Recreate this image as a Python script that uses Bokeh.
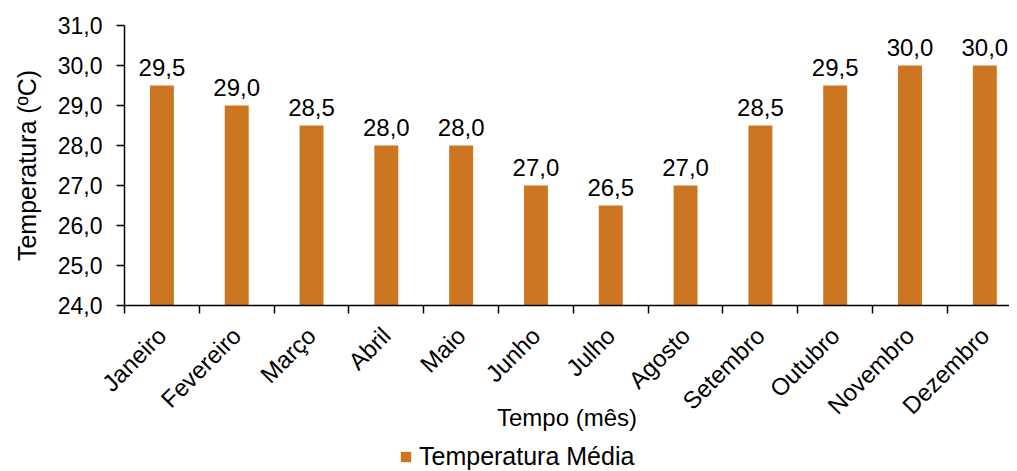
import math
from bokeh.plotting import figure
from bokeh.layouts import column
from bokeh.models import (Range1d, FixedTicker, ColumnDataSource, Legend, LegendItem)
from bokeh.core.properties import value
from bokeh.embed import file_html
from bokeh.resources import INLINE

months = ["Janeiro", "Fevereiro", "Março", "Abril", "Maio", "Junho",
          "Julho", "Agosto", "Setembro", "Outubro", "Novembro", "Dezembro"]
temps = [29.5, 29.0, 28.5, 28.0, 28.0, 27.0, 26.5, 27.0, 28.5, 29.5, 30.0, 30.0]
y_ticks = [24, 25, 26, 27, 28, 29, 30, 31]
y_tick_labels = ["24,0", "25,0", "26,0", "27,0", "28,0", "29,0", "30,0", "31,0"]
series_name = "Temperatura Média"

FONT = "Liberation Sans"
BAR = "#CD7622"

centers = [i + 0.5 for i in range(len(months))]
labels = [f"{v:.1f}".replace(".", ",") for v in temps]
src = ColumnDataSource(dict(x=centers, top=temps, lab=labels))

p = figure(width=1009, height=440, output_backend="svg", toolbar_location=None,
           x_range=Range1d(0, 11.83), y_range=Range1d(24, 31),
           min_border_left=124, min_border_right=0, min_border_top=25,
           min_border_bottom=135)
p.outline_line_color = None
p.xgrid.grid_line_color = None
p.ygrid.grid_line_color = None

r = p.vbar(x="x", top="top", bottom=24, width=0.32, source=src,
           fill_color=BAR, line_color=None)
p.text(x="x", y="top", text="lab", source=src, text_align="center",
       text_baseline="alphabetic", y_offset=-18,
       text_font=value(FONT), text_font_size="24px", text_color="black")

# y axis
ya = p.yaxis[0]
ya.ticker = FixedTicker(ticks=y_ticks, minor_ticks=[])
ya.major_label_overrides = {t: l for t, l in zip(y_ticks, y_tick_labels)}
ya.axis_label = "Temperatura (ºC)"
ya.axis_label_text_font = FONT
ya.axis_label_text_font_style = "normal"
ya.axis_label_text_font_size = "25px"
ya.axis_label_text_color = "black"
ya.axis_label_standoff = 14
ya.major_label_text_font = FONT
ya.major_label_text_font_size = "23px"
ya.major_label_text_color = "black"
ya.major_label_standoff = 14
ya.major_tick_in = 0
ya.major_tick_out = 8
ya.minor_tick_line_color = None
ya.axis_line_width = 1.5
ya.major_tick_line_width = 1.5
ya.axis_line_color = "black"
ya.major_tick_line_color = "black"

# x axis
xa = p.xaxis[0]
xa.ticker = FixedTicker(ticks=centers, minor_ticks=list(range(0, 13)))
xa.major_label_overrides = {c: m for c, m in zip(centers, months)}
xa.major_label_orientation = math.pi / 4
xa.major_label_text_font = FONT
xa.major_label_text_font_size = "24px"
xa.major_label_text_color = "black"
xa.major_label_standoff = 18
xa.major_tick_line_color = None
xa.major_tick_in = 0
xa.major_tick_out = 0
xa.minor_tick_in = 0
xa.minor_tick_out = 8
xa.minor_tick_line_color = "black"
xa.minor_tick_line_width = 1.5
xa.axis_line_width = 1.5
xa.axis_line_color = "black"
xa.axis_label = "Tempo (mês)"
xa.axis_label_text_font = FONT
xa.axis_label_text_font_style = "normal"
xa.axis_label_text_font_size = "24px"
xa.axis_label_text_color = "black"
xa.axis_label_standoff = -28

# legend strip below the chart (its bars fall outside its own ranges)
lg = figure(width=1009, height=31, output_backend="svg", toolbar_location=None,
            x_range=Range1d(-3, -2), y_range=Range1d(-3, -2),
            min_border_left=0, min_border_right=0, min_border_top=0,
            min_border_bottom=0)
lg.axis.visible = False
lg.xgrid.grid_line_color = None
lg.ygrid.grid_line_color = None
lg.outline_line_color = None
r2 = lg.vbar(x="x", top="top", bottom=24, width=0.32, source=src,
             fill_color=BAR, line_color=None)
legend = Legend(items=[LegendItem(label=series_name, renderers=[r2])],
                location=(275, 0), orientation="horizontal",
                border_line_color=None, border_line_alpha=0,
                background_fill_color=None, background_fill_alpha=0,
                label_text_font=FONT, label_text_font_size="25px",
                label_text_color="black", label_height=26,
                glyph_width=13, glyph_height=13, padding=0, margin=0,
                label_standoff=7)
lg.add_layout(legend, "center")

layout = column(p, lg, spacing=0)
open("out.html", "w").write(file_html(layout, INLINE))
